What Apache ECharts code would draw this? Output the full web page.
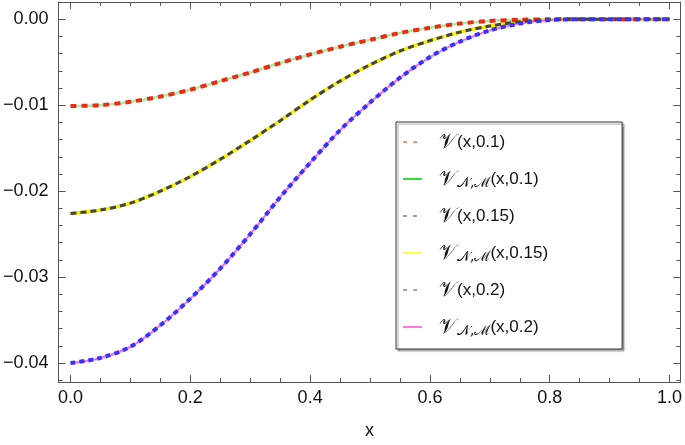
<!DOCTYPE html>
<html>
<head>
<meta charset="utf-8">
<script src="https://cdn.jsdelivr.net/npm/echarts@6/dist/echarts.min.js"></script>
<style>html,body{margin:0;padding:0;background:#fff}#c{width:685px;height:445px}</style>
</head>
<body>
<div id="c"></div>
<script>
var xs = [0,0.05,0.1,0.15,0.2,0.25,0.3,0.35,0.4,0.45,0.5,0.55,0.6,0.65,0.7,0.75,0.8,0.85,0.9,0.95,1.0];
var v01  = [-0.0101,-0.0100,-0.0096,-0.0090,-0.0082,-0.0072,-0.0062,-0.0051,-0.0041,-0.0032,-0.0024,-0.0016,-0.0010,-0.0005,-0.0002,-0.00007,-0.00001,0,0,0,0];
var v015 = [-0.0226,-0.0222,-0.0214,-0.0200,-0.0183,-0.0163,-0.0141,-0.0118,-0.0094,-0.0072,-0.0053,-0.0037,-0.0025,-0.0015,-0.0008,-0.0003,-0.00005,0,0,0,0];
var v02  = [-0.0400,-0.0394,-0.0381,-0.0356,-0.0325,-0.0290,-0.0250,-0.0207,-0.0167,-0.0129,-0.0097,-0.0068,-0.0044,-0.0026,-0.0013,-0.0005,-0.0001,0,0,0,0];
var xMajorTicks = [0,0.2,0.4,0.6,0.8,1.0];
var xMinorTicks = [0.05,0.1,0.15,0.25,0.3,0.35,0.45,0.5,0.55,0.65,0.7,0.75,0.85,0.9,0.95];
var yMajorTicks = [-0.04,-0.03,-0.02,-0.01,0];
var yMinorTicks = [-0.042,-0.038,-0.036,-0.034,-0.032,-0.028,-0.026,-0.024,-0.022,-0.018,-0.016,-0.014,-0.012,-0.008,-0.006,-0.004,-0.002,0.002];
var labels = {
  a: '{v|𝒱}(x,0.1)',
  b: '{v|𝒱}{s|𝒩,ℳ}(x,0.1)',
  c: '{v|𝒱}(x,0.15)',
  d: '{v|𝒱}{s|𝒩,ℳ}(x,0.15)',
  e: '{v|𝒱}(x,0.2)',
  f: '{v|𝒱}{s|𝒩,ℳ}(x,0.2)'
};
function pairs(ys){ return xs.map(function(x,i){ return [x, ys[i]]; }); }

var FONT = 'Liberation Sans';
var AX = '#555';
var DASH_ICON = 'path://M0,0h4v2h-4zM10,0h4v2h-4zM18.8,0h0.2v2h-0.2z';
var SOLID_ICON = 'path://M0,0h19v2h-19z';
function xAx(pos, ticks, len, main){
  return {type:'value', position:pos, min:-0.02, max:1.018,
    axisLine:{show:main, onZero:false, lineStyle:{color:AX, width:1}},
    axisTick:{show:true, inside:true, length:len, customValues:ticks, lineStyle:{color:AX, width:1}},
    axisLabel:{show:(main && pos==='bottom'), customValues:ticks, margin:7, color:'#111', fontSize:18, fontFamily:FONT,
      formatter:function(v){ return v.toFixed(1); }},
    splitLine:{show:false},
    name:(main && pos==='bottom') ? 'x' : '', nameLocation:'middle', nameGap:40,
    nameTextStyle:{color:'#111', fontSize:18, fontFamily:FONT}};
}
function yAx(pos, ticks, len, main){
  return {type:'value', position:pos, min:-0.0422, max:0.002,
    axisLine:{show:main, onZero:false, lineStyle:{color:AX, width:1}},
    axisTick:{show:true, inside:true, length:len, customValues:ticks, lineStyle:{color:AX, width:1}},
    axisLabel:{show:(main && pos==='left'), customValues:ticks, margin:10, color:'#111', fontSize:18, fontFamily:FONT,
      formatter:function(v){ return (v < -1e-9 ? '\u2212' : '') + Math.abs(v).toFixed(2); }},
    splitLine:{show:false}};
}

var chart = echarts.init(document.getElementById('c'), null, {renderer:'canvas'});
var base = {type:'line', xAxisIndex:0, yAxisIndex:0, showSymbol:false, symbol:'none', smooth:0.3, animation:false, silent:true};
chart.setOption({
  animation:false,
  backgroundColor:'#fff',
  grid:{left:56, right:2, top:2, bottom:57, containLabel:false},
  xAxis:[xAx('bottom', xMajorTicks, 7, true), xAx('bottom', xMinorTicks, 4, false), xAx('top', xMajorTicks, 7, true), xAx('top', xMinorTicks, 4, false)],
  yAxis:[yAx('left', yMajorTicks, 7, true), yAx('left', yMinorTicks, 4, false), yAx('right', yMajorTicks, 7, true), yAx('right', yMinorTicks, 4, false)],
  legend:{
    orient:'vertical', left:396, top:122,
    padding:[9,74,11,7], itemGap:15, itemWidth:19, itemHeight:2,
    backgroundColor:'#fff', borderColor:'#333', borderWidth:1,
    shadowColor:'rgba(0,0,0,0.35)', shadowBlur:1, shadowOffsetX:2, shadowOffsetY:2,
    formatter:function(n){ return labels[n]; },
    textStyle:{color:'#111', fontSize:17, fontFamily:FONT, lineHeight:22, padding:[0,0,0,12],
      rich:{
        v:{fontSize:21, fontFamily:'DejaVu Serif', lineHeight:22, verticalAlign:'bottom'},
        s:{fontSize:14, fontFamily:'DejaVu Serif', lineHeight:8, verticalAlign:'bottom'}
      }},
    data:[
      {name:'a', icon:DASH_ICON,  itemStyle:{color:'#ff8a8a', borderWidth:0}},
      {name:'b', icon:SOLID_ICON, itemStyle:{color:'#33dd33', borderWidth:0}},
      {name:'c', icon:DASH_ICON,  itemStyle:{color:'#9a9a9a', borderWidth:0}},
      {name:'d', icon:SOLID_ICON, itemStyle:{color:'#ffff44', borderWidth:0}},
      {name:'e', icon:DASH_ICON,  itemStyle:{color:'#9999ff', borderWidth:0}},
      {name:'f', icon:SOLID_ICON, itemStyle:{color:'#ff77dd', borderWidth:0}}
    ]
  },
  series:[
    Object.assign({}, base, {name:'b', z:2, color:'#33dd33', data:pairs(v01), lineStyle:{color:'#a6eea6', width:2.5}}),
    Object.assign({}, base, {name:'d', z:2, color:'#ffff44', data:pairs(v015), lineStyle:{color:'#f4f000', width:3.5}}),
    Object.assign({}, base, {name:'f', z:2, color:'#ff77dd', data:pairs(v02), lineStyle:{color:'#ff66f0', width:2}}),
    Object.assign({}, base, {name:'a', z:3, color:'#ff8a8a', data:pairs(v01), lineStyle:{color:'#ee2a12', width:4, type:[6,5]}}),
    Object.assign({}, base, {name:'c', z:3, color:'#9a9a9a', data:pairs(v015), lineStyle:{color:'#444444', width:3, type:[6,4]}}),
    Object.assign({}, base, {name:'e', z:3, color:'#9999ff', data:pairs(v02), lineStyle:{color:'#3434ff', width:4, type:[5,4]}})
  ]
});
</script>
</body>
</html>
